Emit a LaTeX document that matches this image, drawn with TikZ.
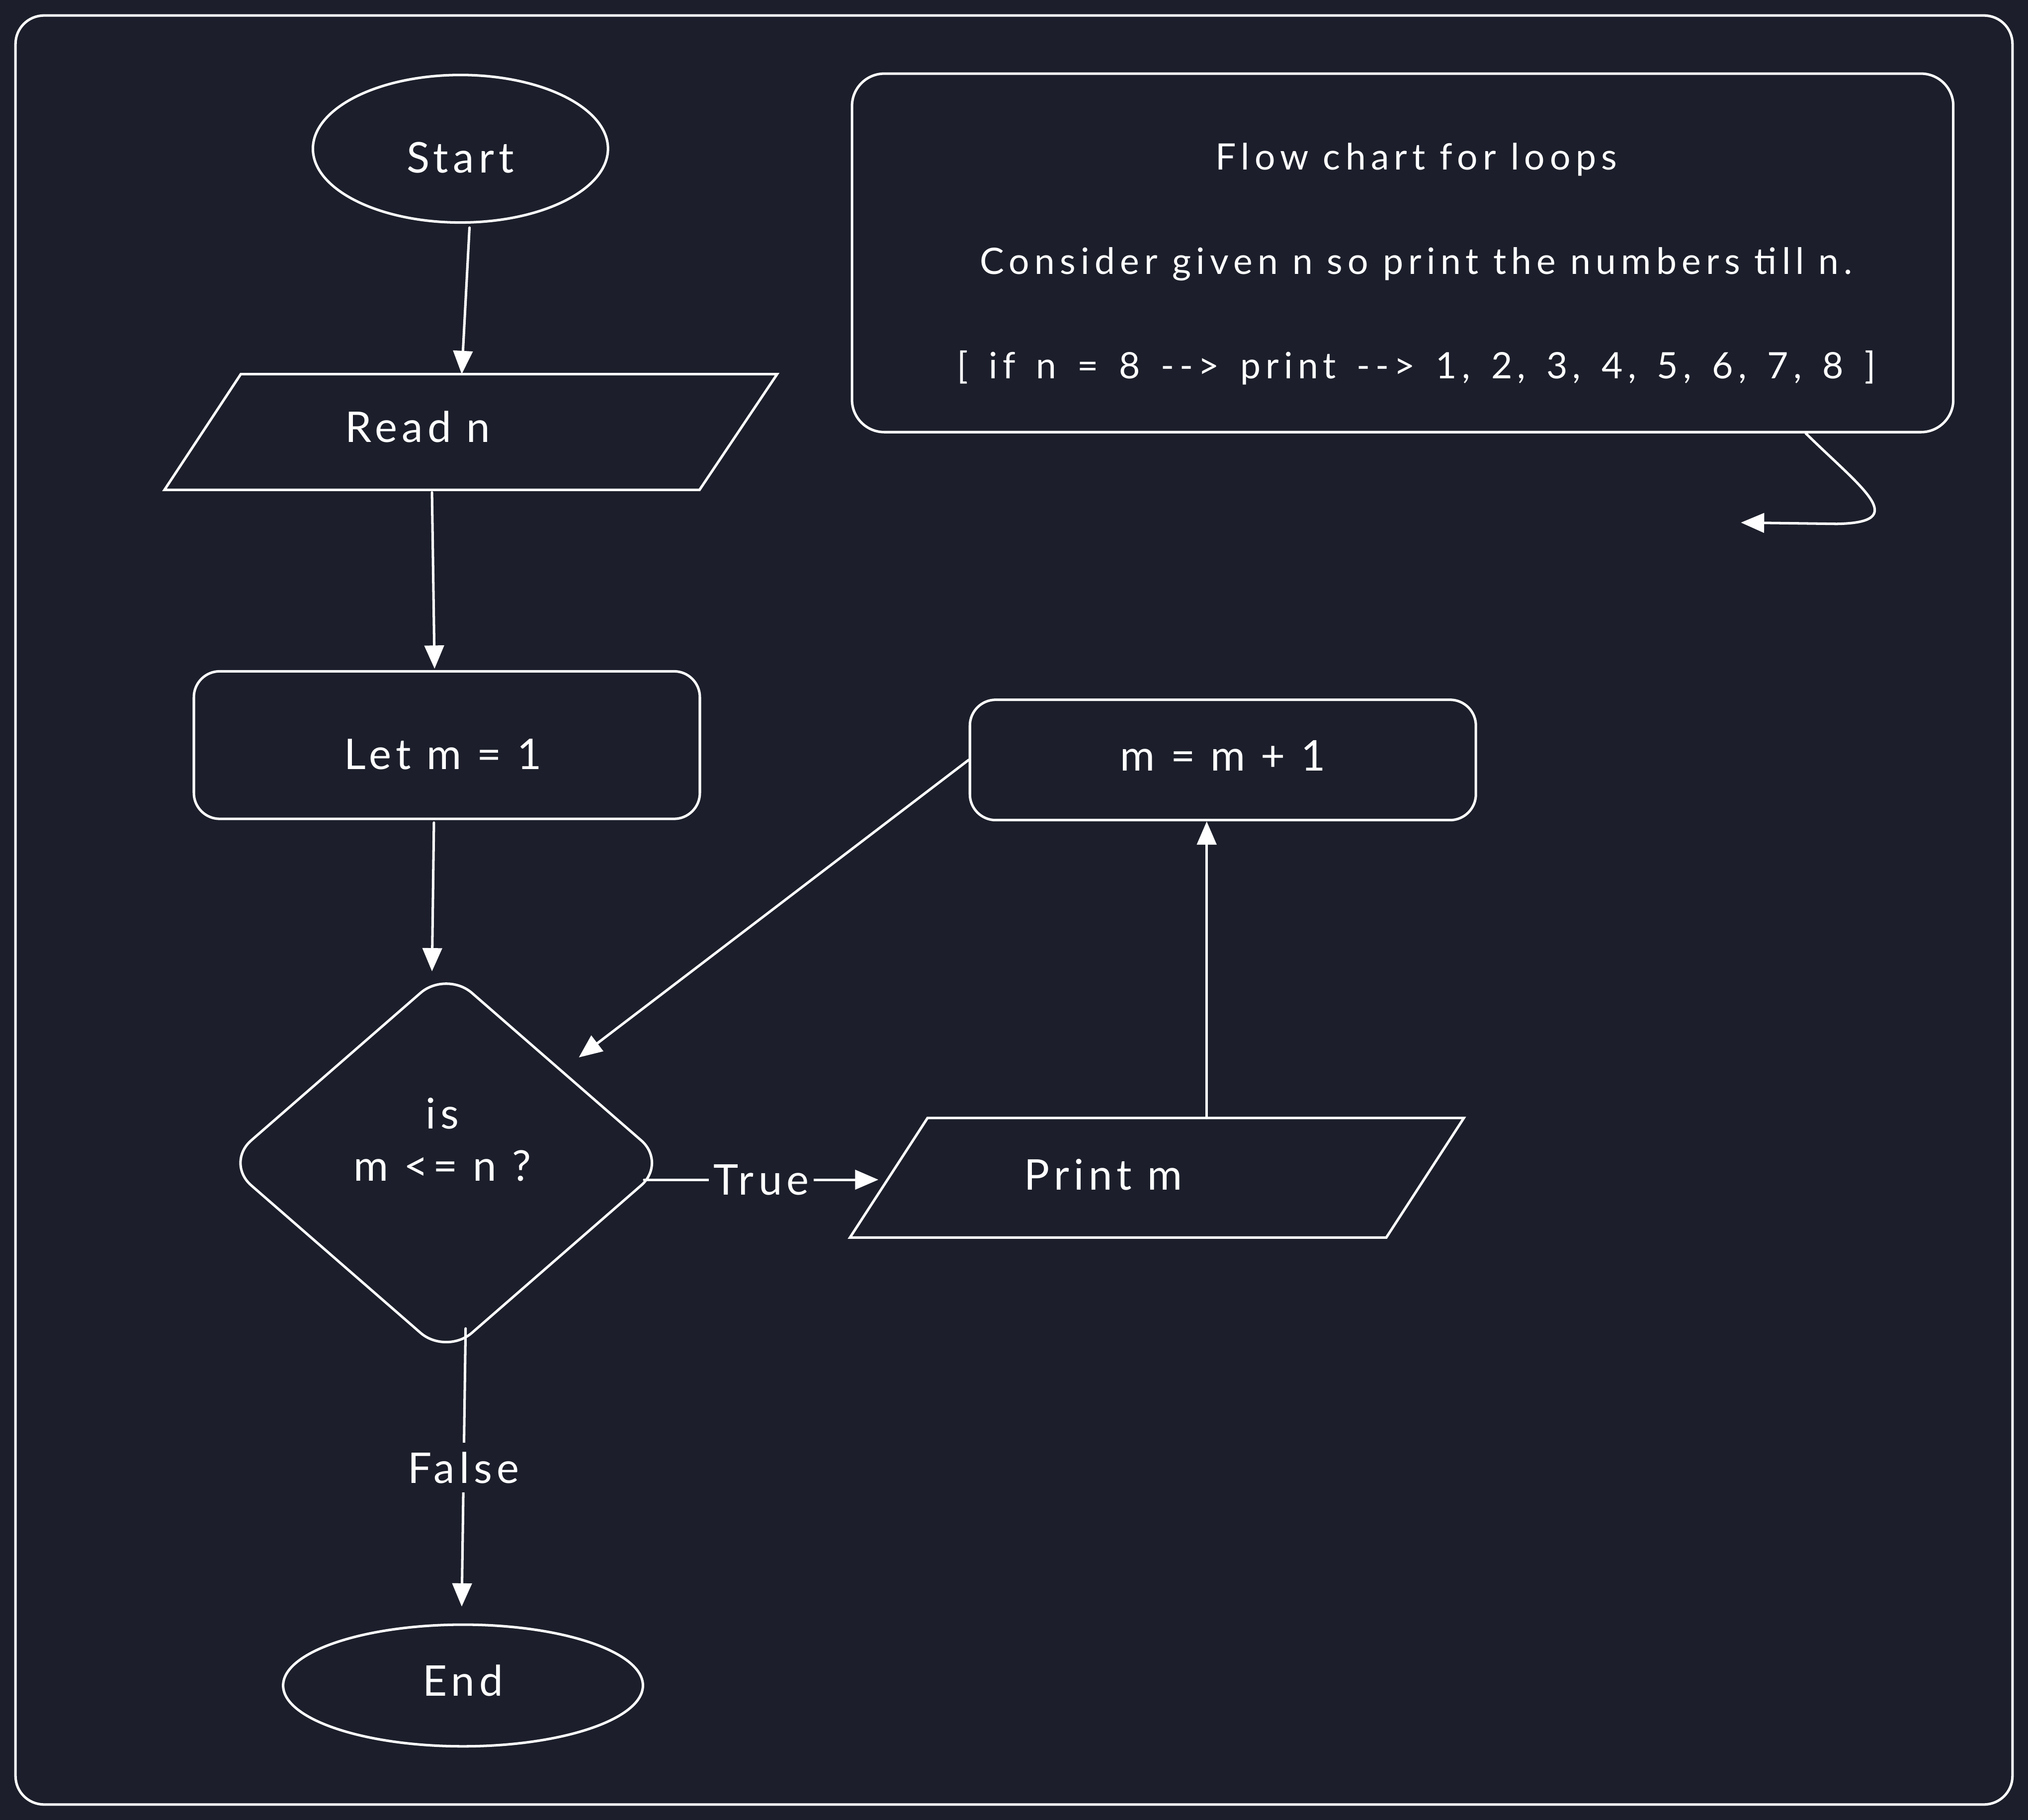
\documentclass[tikz,border=0pt]{standalone}
\usepackage{fontspec}
\setmainfont{Lato}[LetterSpace=11]
\usetikzlibrary{arrows.meta,calc,shapes.geometric}
\definecolor{board}{RGB}{28,31,43}
\definecolor{ink}{RGB}{255,255,255}
\newcommand\labelfont{\fontsize{9.3}{11.4}\selectfont}
\newcommand\notefont{\fontsize{8}{23}\selectfont\addfontfeature{LetterSpace=14}}
\newcommand\widespaces{\spaceskip=\dimexpr\fontdimen2\font+1.4pt\relax}

\begin{document}
\begin{tikzpicture}[x=0.01cm, y=-0.01cm,
  every node/.style={text=ink, font=\labelfont},
  outline/.style={draw=ink, line width=0.55pt},
  terminal/.style={outline, ellipse, inner sep=0pt},
  stepbox/.style={outline, rectangle, rounded corners=0.2cm, inner sep=0pt},
  iobox/.style={rectangle, inner sep=0pt},
  test/.style={outline, diamond, rounded corners=7.5pt, inner sep=0pt},
  flow/.style={draw=ink, line width=0.55pt, line cap=round, -{Triangle[length=0.18cm, width=0.15cm]}},
  branch/.style={fill=board, inner xsep=1pt, inner ysep=2pt},
]
% canvas and outer frame
\fill[board] (0,0) rectangle (1568,1407);
\useasboundingbox (0,0) rectangle (1568,1407);
\draw[outline, rounded corners=0.22cm] (12,12) rectangle (1556,1395);

% flow chart blocks
\node[terminal, minimum width=2.28cm, minimum height=1.14cm,
      label={[name=startlbl, yshift=-0.07cm]center:Start}] (start) at (356,115) {};

\node[iobox, minimum width=4.72cm, minimum height=0.88cm,
      label={[name=readlbl, xshift=-0.41cm, yshift=0.04cm]center:Read n}] (read) at (364,334) {};
\draw[outline] ($(read.north west)+(59,0)$) -- (read.north east)
  -- ($(read.south east)+(-60,0)$) -- (read.south west) -- cycle;

\node[stepbox, minimum width=3.91cm, minimum height=1.14cm,
      label={[name=letlbl, xshift=-0.03cm, yshift=-0.07cm]center:Let m = 1}] (let) at (345.5,576) {};

\node[test, minimum width=3.42cm, minimum height=2.98cm,
      label={[name=testlbl, align=center, xshift=-0.03cm, yshift=0.18cm]center:{is\\m <= n ?}}] (dec) at (345,899) {};

\node[iobox, minimum width=4.73cm, minimum height=0.91cm,
      label={[name=printlbl, xshift=-0.415cm, yshift=0.025cm]center:Print m}] (print) at (894.5,910.5) {};
\draw[outline] ($(print.north west)+(60,0)$) -- (print.north east)
  -- ($(print.south east)+(-60,0)$) -- (print.south west) -- cycle;

\node[stepbox, minimum width=3.91cm, minimum height=0.93cm,
      label={[name=updlbl, yshift=0.035cm]center:m = m + 1}] (upd) at (945.5,587.5) {};

\node[terminal, minimum width=2.78cm, minimum height=0.94cm,
      label={[name=endlbl, yshift=0.04cm]center:End}] (end) at (358,1303) {};

% explanatory note
\node[stepbox, rounded corners=0.25cm, minimum width=8.51cm, minimum height=2.77cm] (note) at (1084.5,195.5) {};
\node[font=\notefont, align=center] (notetxt) at (1095,204)
  {Flow chart for loops\\Consider given n so print the numbers till n.\\{\widespaces{[} if n = 8 -{}-{}> print -{}-{}> 1, 2, 3, 4, 5, 6, 7, 8 {]}}};

% connectors
\draw[flow] ($(start.south)+(7,3)$) -- ($(read.north)+(-7,0)$);
\draw[flow] ($(read.south)+(-30,2)$) -- ($(let.north)+(-9.5,-1)$);
\draw[flow] ($(let.south)+(-10,2)$) -- ($(dec.north)+(-11,2)$);
\draw[flow] ($(dec.east)+(-19,13)$) -- node[branch] (truelbl) {True} ($(print.west)+(22,1.5)$);
\draw[flow] ($(print.north)+(38.5,0)$) -- ($(upd.south)+(-12.5,0)$);
\draw[flow] (upd.west) -- ($(dec.north east)+(16.5,-6.5)$);
\draw[flow] ($(dec.south)+(15,-22)$) -- node[branch] (falselbl) {False} ($(end.north)+(-1,-13)$);
\coordinate (loopback) at (1346,404);
\draw[flow] ($(note.south east)+(-115,0)$) .. controls (1440,378) and (1478,404) .. (1420,405) -- (loopback);
\end{tikzpicture}
\end{document}
